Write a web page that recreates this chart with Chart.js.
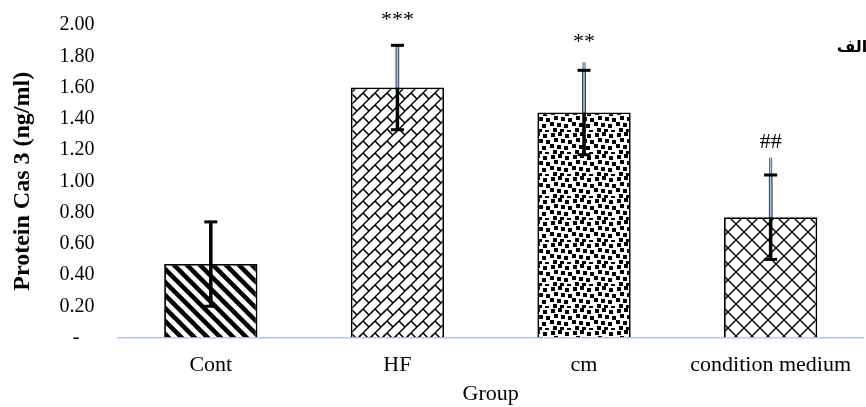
<!DOCTYPE html>
<html>
<head>
<meta charset="utf-8">
<script src="https://cdn.jsdelivr.net/npm/chart.js@4.4.1/dist/chart.umd.min.js"></script>
<style>
    html, body { margin: 0; padding: 0; background: #fff; }
</style>
</head>
<body>
<canvas id="casChart" width="866" height="407"></canvas>
<script>
// values
const groups = ['Cont', 'HF', 'cm', 'condition medium'];
const casMeans = [0.47, 1.60, 1.44, 0.77];
const casErrors = [0.27, 0.27, 0.27, 0.27];
const blueTops = [null, 1.87, 1.76, 1.15];
const sigMarks = ['', '***', '**', '##'];
const sigLevels = [null, 2.03, 1.89, 1.25];
const yTicks = [0, 0.2, 0.4, 0.6, 0.8, 1.0, 1.2, 1.4, 1.6, 1.8, 2.0];

const SERIF = '"Liberation Serif", "Times New Roman", serif';

function makePattern(size, draw) {
    const c = document.createElement('canvas');
    c.width = size;
    c.height = size;
    const g = c.getContext('2d');
    g.fillStyle = '#fff';
    g.fillRect(0, 0, size, size);
    g.strokeStyle = '#000';
    g.fillStyle = '#000';
    draw(g, size);
    return document.createElement('canvas').getContext('2d').createPattern(c, 'repeat');
}

// wide downward diagonal stripes
const stripePattern = makePattern(13, (g, s) => {
    g.lineWidth = 4.5;
    for (const off of [-s, 0, s]) {
        g.beginPath();
        g.moveTo(off - 2, -2);
        g.lineTo(off + s + 2, s + 2);
        g.stroke();
    }
});

// diagonal brick
const brickPattern = makePattern(12, (g, s) => {
    g.lineWidth = 1.5;
    for (const dx of [-s, 0, s]) {
        for (const dy of [-s, 0, s]) {
            g.beginPath();
            g.moveTo(dx - 1, dy + s + 1);
            g.lineTo(dx + s + 1, dy - 1);
            g.stroke();
            g.beginPath();
            g.moveTo(dx + 3, dy + 9);
            g.lineTo(dx + 9, dy + 15);
            g.stroke();
        }
    }
});

// large confetti
const confettiSquares = [
    [1, 1], [8, 0], [15, 2], [4, 6], [11, 7], [18, 8],
    [0, 12], [7, 13], [14, 14], [3, 18], [10, 19], [17, 20]
];
const confettiPattern = makePattern(22, (g) => {
    confettiSquares.forEach(([px, py]) => g.fillRect(px, py, 4, 4));
});

// diagonal cross-hatch
const hatchPattern = makePattern(16, (g, s) => {
    g.lineWidth = 1.4;
    for (const off of [-s, 0, s]) {
        g.beginPath();
        g.moveTo(off - 1, -1);
        g.lineTo(off + s + 1, s + 1);
        g.stroke();
        g.beginPath();
        g.moveTo(off - 1, s + 1);
        g.lineTo(off + s + 1, -1);
        g.stroke();
    }
});

const errorBars = {
    id: 'errorBars',
    afterDatasetsDraw(chart) {
        const { ctx, scales: { x, y } } = chart;
        ctx.save();
        ctx.lineCap = 'butt';
        casMeans.forEach((m, i) => {
            const cx = x.getPixelForValue(i);
            const yHi = y.getPixelForValue(m + casErrors[i]);
            const yLo = y.getPixelForValue(m - casErrors[i]);
            const yBar = y.getPixelForValue(m);

            ctx.strokeStyle = '#000';
            ctx.lineWidth = 3.5;
            ctx.beginPath();
            ctx.moveTo(cx, yLo);
            ctx.lineTo(cx, yHi);
            ctx.stroke();

            if (blueTops[i] !== null) {
                const yBlue = y.getPixelForValue(blueTops[i]);
                ctx.strokeStyle = '#3b4a5c';
                ctx.lineWidth = 3;
                ctx.beginPath();
                ctx.moveTo(cx, yBar);
                ctx.lineTo(cx, yBlue);
                ctx.stroke();
                ctx.strokeStyle = '#9dc3e6';
                ctx.lineWidth = 1.6;
                ctx.beginPath();
                ctx.moveTo(cx, yBar);
                ctx.lineTo(cx, yBlue);
                ctx.stroke();
            }

            ctx.strokeStyle = '#000';
            ctx.lineWidth = 3;
            [yHi, yLo].forEach((yy) => {
                ctx.beginPath();
                ctx.moveTo(cx - 6.5, yy);
                ctx.lineTo(cx + 6.5, yy);
                ctx.stroke();
            });

            if (sigMarks[i]) {
                ctx.fillStyle = '#000';
                ctx.font = '22px ' + SERIF;
                ctx.textAlign = 'center';
                ctx.textBaseline = 'middle';
                ctx.fillText(sigMarks[i], cx, y.getPixelForValue(sigLevels[i]));
            }
        });

        ctx.fillStyle = '#000';
        ctx.font = 'bold 16px "DejaVu Sans"';
        ctx.textAlign = 'center';
        ctx.textBaseline = 'middle';
        ctx.fillText('الف', 852, 48);
        ctx.restore();
    }
};

const ctx = document.getElementById('casChart').getContext('2d');
new Chart(ctx, {
    type: 'bar',
    data: {
        labels: groups,
        datasets: [{
            data: casMeans,
            backgroundColor: [stripePattern, brickPattern, confettiPattern, hatchPattern],
            borderColor: '#000',
            borderWidth: 1.8,
            barPercentage: 0.5,
            categoryPercentage: 1.0,
        }],
    },
    options: {
        responsive: false,
        animation: false,
        devicePixelRatio: 1,
        layout: { padding: 0 },
        plugins: { legend: { display: false }, tooltip: { enabled: false } },
        scales: {
            x: {
                grid: { display: false, drawTicks: false },
                border: { display: true, color: '#b4c7e7', width: 1.5 },
                ticks: { color: '#000', font: { family: SERIF, size: 22 }, padding: 15 },
                title: {
                    display: true, text: 'Group', color: '#000',
                    font: { family: SERIF, size: 22 }, padding: { top: 0, bottom: 0 }
                },
                afterFit: (s) => { s.height = 69.5; }
            },
            y: {
                min: 0,
                max: 2,
                afterBuildTicks: (s) => { s.ticks = yTicks.map((v) => ({ value: v })); },
                grid: { display: false, drawTicks: false },
                border: { display: false },
                ticks: {
                    color: '#000',
                    font: { family: SERIF, size: 20 },
                    padding: 13,
                    // trailing spaces push the labels off the axis like the original
                    callback: (v) => v === 0 ? '-     ' : v.toFixed(2) + '  '
                },
                title: {
                    display: true, text: 'Protein Cas 3 (ng/ml)', color: '#000',
                    font: { family: SERIF, size: 24, weight: 'bold' }, padding: { top: 8, bottom: 0 }
                },
                afterFit: (s) => { s.width = 117.5; }
            }
        }
    },
    plugins: [errorBars]
});
</script>
</body>
</html>
